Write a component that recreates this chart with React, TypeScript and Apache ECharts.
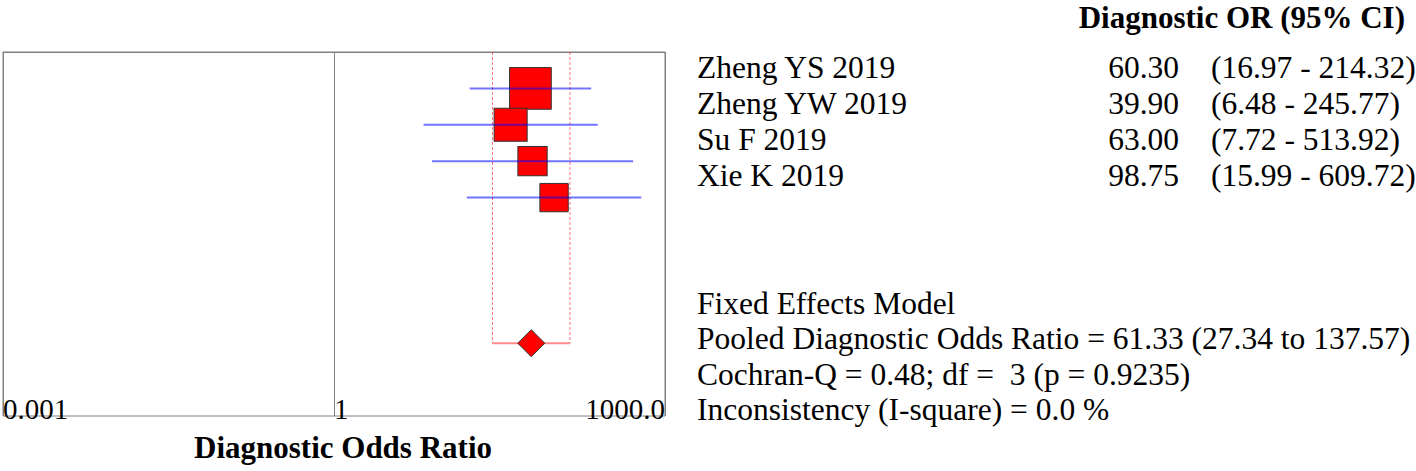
import React, { useEffect, useRef } from "react";
import * as echarts from "echarts";

// ---- data ----
const studies = ["Zheng YS 2019", "Zheng YW 2019", "Su F 2019", "Xie K 2019"];
const dorValues = [60.3, 39.9, 63.0, 98.75];
const ciLow = [16.97, 6.48, 7.72, 15.99];
const ciHigh = [214.32, 245.77, 513.92, 609.72];
const weights = [38.8, 24.3, 19.1, 17.9];
const studyRows = [1, 2, 3, 4];

const pooledDor = 61.33;
const pooledLow = 27.34;
const pooledHigh = 137.57;
const pooledRow = 8;

const tickValues = [0.001, 1, 1000];
const tickLabels = ["0.001", "1", "1000.0"];

const modelName = "Fixed Effects Model";
const cochranText = "Cochran-Q = 0.48; df =  3 (p = 0.9235)";
const inconsistencyText = "Inconsistency (I-square) = 0.0 %";
const columnTitle = "Diagnostic OR (95% CI)";
const axisTitle = "Diagnostic Odds Ratio";

const FONT = "'Liberation Serif', 'Times New Roman', serif";

export default function App() {
  const ref = useRef<HTMLDivElement>(null);

  useEffect(() => {
    if (!ref.current) return;
    const chart = echarts.init(ref.current, undefined, { renderer: "svg" });

    const textBase = { fontFamily: FONT, fontSize: 31.5, fill: "#000" };
    const graphics: any[] = [];
    graphics.push({
      type: "text",
      x: 1405,
      y: 17,
      style: { ...textBase, fontSize: 31, fontWeight: "bold", text: columnTitle, align: "right", verticalAlign: "middle" },
    });
    studies.forEach((name, i) => {
      const y = 67 + 36 * i;
      graphics.push({ type: "text", x: 697, y, style: { ...textBase, text: name, align: "left", verticalAlign: "middle" } });
      graphics.push({ type: "text", x: 1179, y, style: { ...textBase, text: dorValues[i].toFixed(2), align: "right", verticalAlign: "middle" } });
      graphics.push({
        type: "text",
        x: 1211,
        y,
        style: { ...textBase, text: `(${ciLow[i].toFixed(2)} - ${ciHigh[i].toFixed(2)})`, align: "left", verticalAlign: "middle" },
      });
    });
    const summary = [
      modelName,
      `Pooled Diagnostic Odds Ratio = ${pooledDor.toFixed(2)} (${pooledLow.toFixed(2)} to ${pooledHigh.toFixed(2)})`,
      cochranText,
      inconsistencyText,
    ];
    summary.forEach((t, i) => {
      graphics.push({ type: "text", x: 697, y: 303 + 35.5 * i, style: { ...textBase, text: t, align: "left", verticalAlign: "middle" } });
    });

    const labelFor = (v: number) => {
      let best = 0;
      let bd = Infinity;
      tickValues.forEach((tv, i) => {
        const d = Math.abs(Math.log10(v) - Math.log10(tv));
        if (d < bd) { bd = d; best = i; }
      });
      return tickLabels[best];
    };

    chart.setOption({
      animation: false,
      grid: {
        left: 2,
        right: 751,
        top: 52,
        bottom: 55,
        show: true,
        borderColor: "#808080",
        borderWidth: 1,
        backgroundColor: "transparent",
      },
      xAxis: {
        type: "log",
        logBase: 10,
        min: tickValues[0],
        max: tickValues[tickValues.length - 1],
        interval: 3,
        axisLine: { show: true, lineStyle: { color: "#808080", width: 1 } },
        axisTick: { show: false },
        splitLine: { show: true, lineStyle: { color: "#808080", width: 1 } },
        axisLabel: {
          show: true,
          formatter: (v: number) => labelFor(v),
          fontFamily: FONT,
          fontSize: 29,
          color: "#000",
          align: "left",
          alignMaxLabel: "right",
          verticalAlign: "middle",
          margin: -7,
          showMinLabel: true,
          showMaxLabel: true,
        },
        name: axisTitle,
        nameLocation: "middle",
        nameGap: 31,
        nameTextStyle: {
          fontFamily: FONT,
          fontSize: 31,
          fontWeight: "bold",
          color: "#000",
          verticalAlign: "middle",
          padding: [0, 0, 0, 18],
        },
      },
      yAxis: {
        type: "value",
        min: 0,
        max: 10,
        inverse: true,
        show: false,
      },
      graphic: graphics,
      series: [
        {
          type: "custom",
          name: "pooled-outline",
          data: [[pooledLow, pooledHigh, 0, pooledRow]],
          encode: { x: [0, 1], y: [2, 3] },
          z: 1,
          renderItem: (params: any, api: any) => {
            const tl = api.coord([api.value(0), api.value(2)]);
            const tr = api.coord([api.value(1), api.value(2)]);
            const bl = api.coord([api.value(0), api.value(3)]);
            const br = api.coord([api.value(1), api.value(3)]);
            const dash = { stroke: "rgba(255,0,0,0.55)", lineWidth: 1, lineDash: [3, 2] };
            return {
              type: "group",
              children: [
                { type: "line", shape: { x1: tl[0], y1: tl[1], x2: bl[0], y2: bl[1] }, style: dash },
                { type: "line", shape: { x1: tr[0], y1: tr[1], x2: br[0], y2: br[1] }, style: dash },
                { type: "line", shape: { x1: bl[0], y1: bl[1], x2: br[0], y2: br[1] }, style: { stroke: "rgba(255,0,0,0.45)", lineWidth: 2 } },
              ],
            };
          },
        },
        {
          type: "scatter",
          name: "studies",
          z: 3,
          data: studyRows.map((r, i) => ({
            value: [dorValues[i], r],
            symbolSize: 6.7 * Math.sqrt(weights[i]),
          })),
          symbol: "rect",
          itemStyle: { color: "#ff0000", borderColor: "#333", borderWidth: 1, opacity: 1 },
        },
        {
          type: "custom",
          name: "ci",
          z: 5,
          data: studyRows.map((r, i) => [ciLow[i], ciHigh[i], r]),
          encode: { x: [0, 1], y: 2 },
          renderItem: (params: any, api: any) => {
            const a = api.coord([api.value(0), api.value(2)]);
            const b = api.coord([api.value(1), api.value(2)]);
            return {
              type: "line",
              shape: { x1: a[0], y1: a[1], x2: b[0], y2: b[1] },
              style: { stroke: "rgba(0,0,255,0.55)", lineWidth: 2 },
            };
          },
        },
        {
          type: "scatter",
          name: "pooled",
          z: 6,
          data: [[pooledDor, pooledRow]],
          symbol: "diamond",
          symbolSize: [27, 27],
          itemStyle: { color: "#ff0000", borderColor: "#333", borderWidth: 1, opacity: 1 },
        },
      ],
    });

    return () => {
      chart.dispose();
    };
  }, []);

  return (
    <div
      ref={ref}
      style={{ position: "fixed", left: 0, top: 0, width: 1416, height: 471, background: "#fff" }}
    />
  );
}
